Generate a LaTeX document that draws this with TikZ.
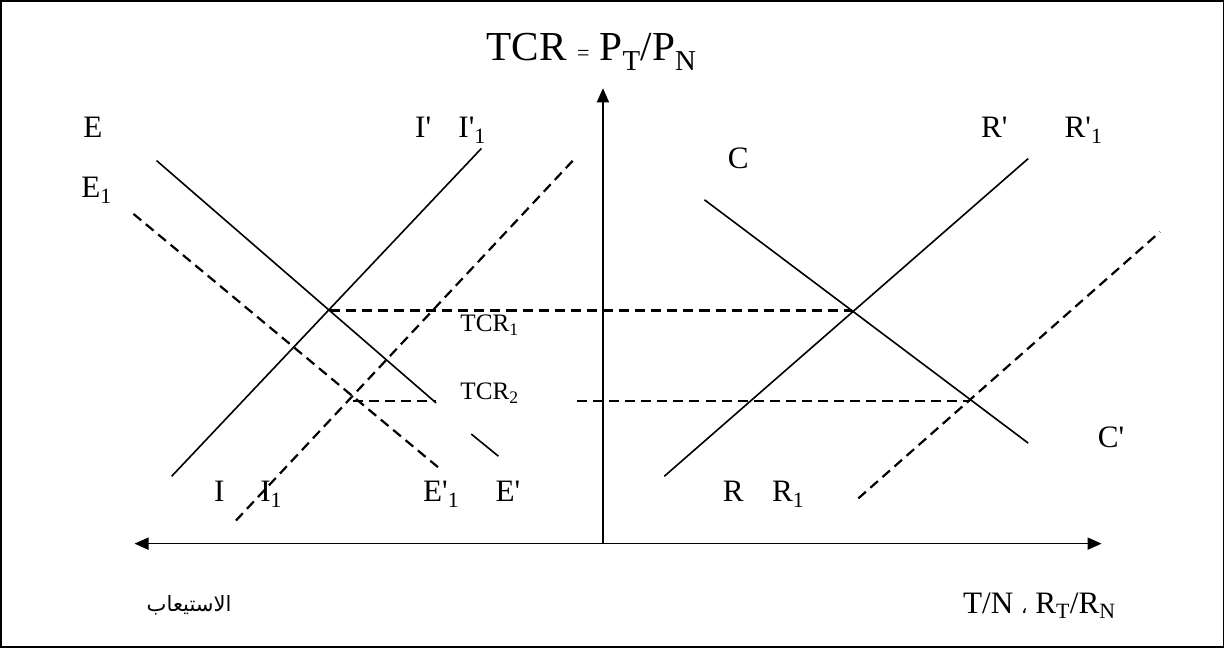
\documentclass[tikz,border=0pt]{standalone}
\usepackage{fontspec}
\setmainfont{Liberation Serif}
\newfontfamily\arabicfont[Script=Arabic]{DejaVu Sans}
\TeXXeTstate=1
\usetikzlibrary{arrows.meta}
\newcommand{\pr}{\textquotesingle}
\tikzset{
	solidline/.style={line width=1.6pt},
	dashline/.style={line width=2.2pt,dash pattern=on 10pt off 6pt},
	axisline/.style={line width=1.6pt},
	curvelbl/.style={font=\fontsize{31}{36}\selectfont,inner sep=0pt,anchor=base west},
	levellbl/.style={font=\fontsize{25}{29}\selectfont,inner sep=0pt,anchor=base west}
}
\begin{document}
\begin{tikzpicture}[x=1pt,y=-1pt,>={Triangle[length=14pt,width=12pt]}]
\draw[line width=1.5pt] (5,5) rectangle (1221,648);
% axes
\coordinate (origin) at (604,545);
\draw[axisline,<->] (138,545) -- (1100,545);
\draw[axisline,->] (origin) -- (604,92);
\node[font=\fontsize{41}{46}\selectfont,inner sep=0pt,anchor=base west] (title) at (488,64)
	{TCR {\fontsize{22}{22}\selectfont=} P\textsubscript{T}/P\textsubscript{N}};
% left side
\coordinate (eq1) at (332,313);
\coordinate (eq2) at (355,403);
\draw[solidline] (160,164) -- (438,405);
\draw[solidline] (473,436) -- (500,458);
\draw[dashline] (137,217) -- (440,469);
\draw[solidline] (175,478) -- (483,152);
\draw[dashline] (239,522) -- (575,163);
% right side
\coordinate (eq3) at (852,313);
\coordinate (eq4) at (969,403);
\draw[solidline] (705,203) -- (1027,445);
\draw[solidline] (665,478) -- (1027,162);
\draw[dashline] (858,500) -- (1158,235);
% price levels
\draw[dashline] (eq1) -- (eq3);
\draw[dashline] (eq2) -- (438,403);
\draw[dashline] (578,403) -- (eq4);
\node[levellbl] (tcr1) at (462,334) {TCR\textsubscript{1}};
\node[levellbl] (tcr2) at (462,402) {TCR\textsubscript{2}};
% curve labels
\foreach \t/\x/\y/\n in {E/87/141/lE, E\textsubscript{1}/85/201/lEa, I\pr/417/141/lIp, I\pr\textsubscript{1}/460/141/lIpa,
	I/217/503/lI, I\textsubscript{1}/263/503/lIa, E\pr\textsubscript{1}/425/503/lEpa, E\pr/497/503/lEp,
	C/728/172/lC, R\pr/980/141/lRp, R\pr\textsubscript{1}/1063/141/lRpa, C\pr/1096/449/lCp,
	R/723/503/lR, R\textsubscript{1}/772/503/lRa}
	\node[curvelbl] (\n) at (\x,\y) {\t};
% axis labels
\node[font=\fontsize{21}{24}\arabicfont,inner sep=0pt,anchor=base west] (absorb) at (150,612) {\beginR الاستيعاب\endR};
\node[curvelbl] (ratio) at (962,614) {T/N {\arabicfont\fontsize{20}{24}\selectfont\beginR ،\endR} R\textsubscript{T}/R\textsubscript{N}};
\end{tikzpicture}
\end{document}
